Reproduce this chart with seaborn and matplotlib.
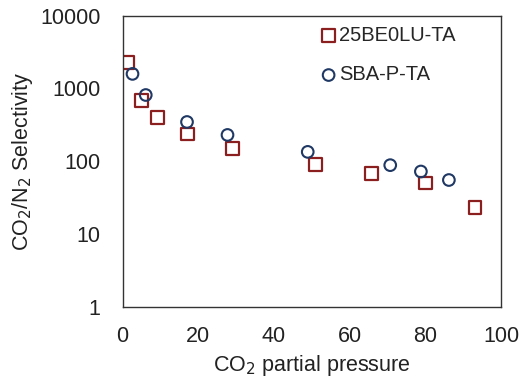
import matplotlib
matplotlib.use("Agg")
import matplotlib.pyplot as plt
import seaborn as sns
import pandas as pd
from matplotlib.ticker import FixedLocator, FixedFormatter, NullLocator

series_a_name = "25BE0LU-TA"
series_a_x = [1.2, 5.0, 9.3, 17.1, 29.0, 50.9, 65.7, 80.0, 93.1]
series_a_y = [2260, 680, 400, 236, 149, 89, 68, 50, 23]

series_b_name = "SBA-P-TA"
series_b_x = [2.6, 6.1, 17.0, 27.7, 48.9, 70.7, 78.8, 86.2]
series_b_y = [1580, 810, 345, 229, 134, 88, 72, 55]

y_ticks = [1, 10, 100, 1000, 10000]
x_ticks = [0, 20, 40, 60, 80, 100]

df = pd.DataFrame({
    "x": series_a_x + series_b_x,
    "y": series_a_y + series_b_y,
    "series": [series_a_name] * len(series_a_x) + [series_b_name] * len(series_b_x),
})

sns.set_theme(style="white")
plt.rcParams["font.family"] = ["Liberation Sans", "DejaVu Sans"]

fig = plt.figure(figsize=(5.22, 3.8), dpi=100)
ax = fig.add_axes([0.235, 0.193, 0.725, 0.766])

red = "#8B1E1E"
navy = "#1F3864"

sns.scatterplot(data=df[df.series == series_a_name], x="x", y="y", marker="s", s=85,
                facecolor="none", edgecolor=red, linewidth=1.6, ax=ax, label=series_a_name)
sns.scatterplot(data=df[df.series == series_b_name], x="x", y="y", marker="o", s=70,
                facecolor="none", edgecolor=navy, linewidth=1.5, ax=ax, label=series_b_name)

ax.set_yscale("log")
ax.set_ylim(1, 10000)
ax.set_xlim(0, 100)
ax.yaxis.set_major_locator(FixedLocator(y_ticks))
ax.yaxis.set_major_formatter(FixedFormatter([str(t) for t in y_ticks]))
ax.yaxis.set_minor_locator(NullLocator())
ax.set_xticks(x_ticks)
ax.tick_params(axis="both", labelsize=15.5, length=0, colors="#222222")
ax.tick_params(axis="y", pad=16)
ax.tick_params(axis="x", pad=14)

for sp in ax.spines.values():
    sp.set_visible(True)
    sp.set_color("#333333")
    sp.set_linewidth(1.0)

ax.set_xlabel("CO$_2$ partial pressure", fontsize=15.5, color="#222222", labelpad=4)
ax.set_ylabel("CO$_2$/N$_2$ Selectivity", fontsize=15.5, color="#222222", labelpad=4)

leg = ax.legend(loc="upper left", bbox_to_anchor=(0.475, 1.012), frameon=False, fontsize=14.5,
                handletextpad=-0.1, borderaxespad=0.3, labelspacing=1.0, handlelength=1.2)

fig.savefig("out.png", dpi=100)
